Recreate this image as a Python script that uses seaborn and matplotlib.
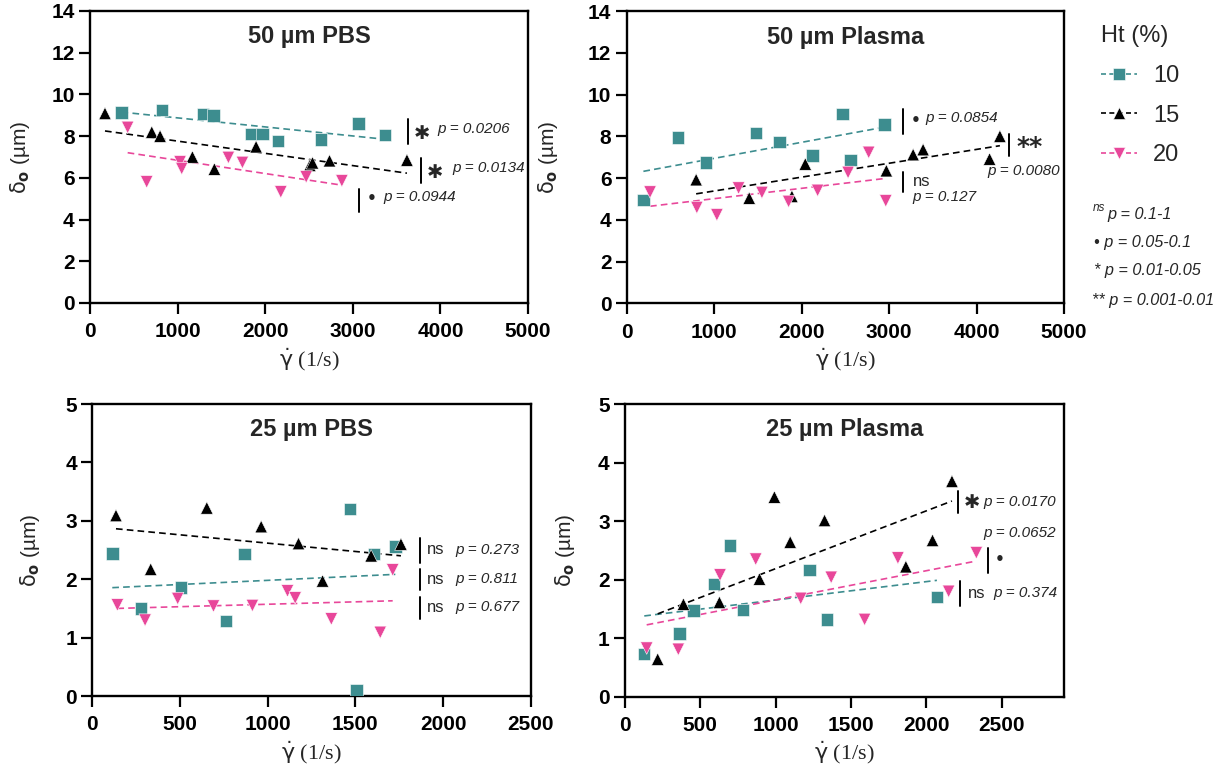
import numpy as np
import pandas as pd
import matplotlib
matplotlib.use("Agg")
import matplotlib.pyplot as plt
from matplotlib.lines import Line2D
import seaborn as sns

# ---------------- data ----------------
ht_levels = ["10", "15", "20"]
colors = {"10": "#3d8d8f", "15": "#000000", "20": "#e8479a"}
markers = {"10": "s", "15": "^", "20": "v"}

# 50 um PBS
a_x10 = [362, 819, 1287, 1409, 1835, 1969, 2148, 2639, 3065, 3370]
a_y10 = [9.14, 9.25, 9.07, 8.98, 8.10, 8.10, 7.76, 7.84, 8.61, 8.05]
a_x15 = [171, 705, 800, 1169, 1420, 1896, 2510, 2540, 2734, 3618]
a_y15 = [9.09, 8.19, 8.00, 7.00, 6.42, 7.49, 6.60, 6.72, 6.82, 6.85]
a_x20 = [430, 647, 1028, 1047, 1580, 1740, 2178, 2468, 2875]
a_y20 = [8.42, 5.81, 6.77, 6.45, 6.98, 6.74, 5.33, 6.05, 5.86]

# 50 um Plasma
b_x10 = [191, 588, 905, 1481, 1748, 2126, 2469, 2557, 2950]
b_y10 = [4.96, 7.95, 6.75, 8.16, 7.73, 7.07, 9.07, 6.85, 8.56]
b_x15 = [794, 1401, 1889, 2042, 2969, 3275, 3389, 4149, 4267]
b_y15 = [5.92, 5.04, 5.12, 6.67, 6.35, 7.12, 7.36, 6.91, 8.00]
b_x20 = [267, 802, 1031, 1279, 1546, 1851, 2183, 2531, 2767, 2962]
b_y20 = [5.33, 4.59, 4.24, 5.52, 5.31, 4.88, 5.41, 6.27, 7.23, 4.91]

# 25 um PBS
c_x10 = [114, 278, 506, 763, 868, 1471, 1506, 1608, 1728]
c_y10 = [2.44, 1.50, 1.86, 1.28, 2.43, 3.20, 0.10, 2.43, 2.56]
c_x15 = [135, 333, 653, 963, 1176, 1313, 1590, 1760]
c_y15 = [3.09, 2.17, 3.22, 2.90, 2.61, 1.97, 2.40, 2.60]
c_x20 = [143, 301, 487, 691, 913, 1113, 1157, 1363, 1642, 1713]
c_y20 = [1.56, 1.30, 1.67, 1.54, 1.55, 1.80, 1.68, 1.32, 1.09, 2.16]

# 25 um Plasma
d_x10 = [128, 361, 454, 591, 698, 782, 1225, 1340, 2071]
d_y10 = [0.73, 1.08, 1.47, 1.93, 2.58, 1.48, 2.16, 1.32, 1.70]
d_x15 = [217, 388, 627, 893, 992, 1097, 1325, 1865, 2042, 2171]
d_y15 = [0.64, 1.58, 1.61, 2.01, 3.41, 2.64, 3.01, 2.22, 2.67, 3.68]
d_x20 = [144, 354, 631, 868, 1167, 1369, 1591, 1812, 2149, 2333]
d_y20 = [0.83, 0.81, 2.08, 2.35, 1.68, 2.04, 1.32, 2.37, 1.80, 2.46]

titles = ["50 µm PBS", "50 µm Plasma", "25 µm PBS", "25 µm Plasma"]
y_ticks_top = [0, 2, 4, 6, 8, 10, 12, 14]
y_ticks_bot = [0, 1, 2, 3, 4, 5]
x_ticks_top = [0, 1000, 2000, 3000, 4000, 5000]
x_ticks_bot = [0, 500, 1000, 1500, 2000, 2500]

# ---------------- style ----------------
sns.set_theme(style="ticks")
plt.rcParams["font.family"] = ["Liberation Sans", "DejaVu Sans"]
plt.rcParams["mathtext.fontset"] = "dejavusans"
plt.rcParams["axes.linewidth"] = 1.7
plt.rcParams["axes.edgecolor"] = "black"

fig = plt.figure(figsize=(12.21, 7.78), dpi=100)
W, H = 1221, 778


def axes_px(left, right, top, bottom):
    return fig.add_axes([left / W, 1 - bottom / H, (right - left) / W, (bottom - top) / H])


axA = axes_px(90, 528, 11, 303)
axB = axes_px(626.7, 1064, 11, 303.3)
axC = axes_px(92.3, 530.7, 404, 696)
axD = axes_px(625, 1064, 404, 696.7)

panels = [
    (axA, (a_x10, a_y10), (a_x15, a_y15), (a_x20, a_y20), (0, 5000), (0, 14), x_ticks_top, y_ticks_top, -0.132, 0.911),
    (axB, (b_x10, b_y10), (b_x15, b_y15), (b_x20, b_y20), (0, 5000), (0, 14), x_ticks_top, y_ticks_top, -0.153, 0.911),
    (axC, (c_x10, c_y10), (c_x15, c_y15), (c_x20, c_y20), (0, 2500), (0, 5), x_ticks_bot, y_ticks_bot, -0.115, 0.914),
    (axD, (d_x10, d_y10), (d_x15, d_y15), (d_x20, d_y20), (0, 2915), (0, 5), x_ticks_bot, y_ticks_bot, -0.11, 0.914),
]

for i, (ax, s10, s15, s20, xl, yl, xt, yt, ylab_x, title_y) in enumerate(panels):
    frames = []
    for lvl, (xs, ys) in zip(ht_levels, [s10, s15, s20]):
        frames.append(pd.DataFrame({"x": xs, "y": ys, "Ht": lvl}))
    df = pd.concat(frames, ignore_index=True)

    # regression (dashed) lines
    for lvl in ht_levels:
        sub = df[df["Ht"] == lvl]
        sns.regplot(data=sub, x="x", y="y", ax=ax, scatter=False, ci=None,
                    truncate=True, color=colors[lvl],
                    line_kws=dict(ls=(0, (4, 2.5)), lw=1.2, zorder=2))

    sns.scatterplot(data=df, x="x", y="y", hue="Ht", style="Ht",
                    hue_order=ht_levels, style_order=ht_levels,
                    palette=colors, markers=markers, s=80,
                    edgecolor="white", linewidth=0.4, legend=False,
                    ax=ax, zorder=3)

    ax.set_xlim(*xl)
    ax.set_ylim(*yl)
    ax.set_xticks(xt)
    ax.set_yticks(yt)
    ax.tick_params(axis="both", direction="out", length=8, width=1.6,
                   labelsize=15, colors="black")
    ax.tick_params(axis="x", pad=6)
    ax.tick_params(axis="y", pad=3)
    for lbl in ax.get_xticklabels() + ax.get_yticklabels():
        lbl.set_fontweight("bold")
    for sp in ax.spines.values():
        sp.set_visible(True)
        sp.set_linewidth(1.7)
        sp.set_color("black")

    ax.set_xlabel(r"$\mathrm{\dot{\gamma}}$ (1/s)", fontsize=16,
                  family="Liberation Serif", labelpad=3)
    ax.set_ylabel(r"$\mathrm{\delta}_\mathbf{o}$ (µm)", fontsize=15)
    ax.yaxis.set_label_coords(ylab_x, 0.5)
    ax.text(0.5, title_y, titles[i], transform=ax.transAxes, ha="center",
            va="center", fontsize=17, fontweight="bold")

# ---------------- significance annotations ----------------
def bar(ax, x, y0, y1):
    ax.plot([x, x], [y0, y1], color="black", lw=1.4, clip_on=False, zorder=4)


def ptxt(ax, x, y, s, size=11):
    ax.text(x, y, s, fontsize=size, style="italic", ha="left", va="center",
            clip_on=False)


def sym(ax, x, y, s, size=14, weight="bold"):
    ax.text(x, y, s, fontsize=size, ha="center", va="center",
            fontweight=weight, clip_on=False, family=["DejaVu Sans"])


# Panel A
bar(axA, 3630, 7.62, 8.82); sym(axA, 3787, 8.15, "✱"); ptxt(axA, 3961, 8.34, "p = 0.0206")
bar(axA, 3775, 5.75, 6.95); sym(axA, 3938, 6.28, "✱"); ptxt(axA, 4132, 6.47, "p = 0.0134")
bar(axA, 3071, 4.36, 5.47); sym(axA, 3219, 4.99, "•", size=11); ptxt(axA, 3345, 5.08, "p = 0.0944")

# Panel B
bar(axB, 3161, 8.12, 9.32); sym(axB, 3299, 8.74, "•", size=11); ptxt(axB, 3413, 8.89, "p = 0.0854")
bar(axB, 4374, 7.06, 8.12); sym(axB, 4603, 7.50, "**", size=18); ptxt(axB, 4122, 6.35, "p = 0.0080")
bar(axB, 3158, 5.34, 6.30)
axB.text(3267, 5.82, "ns", fontsize=12, ha="left", va="center")
ptxt(axB, 3267, 5.10, "p = 0.127")

# Panel C
for (yb0, yb1, yt, ptx) in [(2.28, 2.71, 2.50, "p = 0.273"),
                            (1.82, 2.17, 2.00, "p = 0.811"),
                            (1.32, 1.70, 1.52, "p = 0.677")]:
    bar(axC, 1868, yb0, yb1)
    axC.text(1910, yt, "ns", fontsize=12, ha="left", va="center")
    ptxt(axC, 2070, yt, ptx)

# Panel D
bar(axD, 2211, 3.14, 3.52); sym(axD, 2304, 3.31, "✱"); ptxt(axD, 2377, 3.33, "p = 0.0170")
ptxt(axD, 2377, 2.80, "p = 0.0652")
bar(axD, 2410, 2.12, 2.54); sym(axD, 2490, 2.34, "•", size=11)
bar(axD, 2224, 1.55, 1.98)
axD.text(2278, 1.77, "ns", fontsize=12, ha="left", va="center")
ptxt(axD, 2444, 1.77, "p = 0.374")

# ---------------- legend ----------------
handles = [Line2D([0], [0], color=colors[l], ls=(0, (3, 2)), lw=1.2,
                  marker=markers[l], markersize=9, markeredgecolor="white",
                  markeredgewidth=0.4) for l in ht_levels]
leg = fig.legend(handles, ht_levels, title="Ht (%)", loc="upper left",
                 bbox_to_anchor=(1080 / W, 1 - 4 / H), frameon=False,
                 fontsize=17, title_fontsize=17, handlelength=1.5,
                 handletextpad=0.7, labelspacing=0.75)
leg._legend_box.align = "left"

# footnotes
fig.text(1093 / W, 1 - 208 / H, "ns", fontsize=8.5, style="italic", va="center")
fig.text(1107 / W, 1 - 215 / H, "p = 0.1-1", fontsize=11.7, style="italic", va="center")
fig.text(1094 / W, 1 - 242 / H, "• p = 0.05-0.1", fontsize=11.7, style="italic", va="center")
fig.text(1094 / W, 1 - 270 / H, "* p = 0.01-0.05", fontsize=11.7, style="italic", va="center")
fig.text(1092 / W, 1 - 301 / H, "** p = 0.001-0.01", fontsize=11.7, style="italic", va="center")

fig.savefig("out.png", dpi=100)
